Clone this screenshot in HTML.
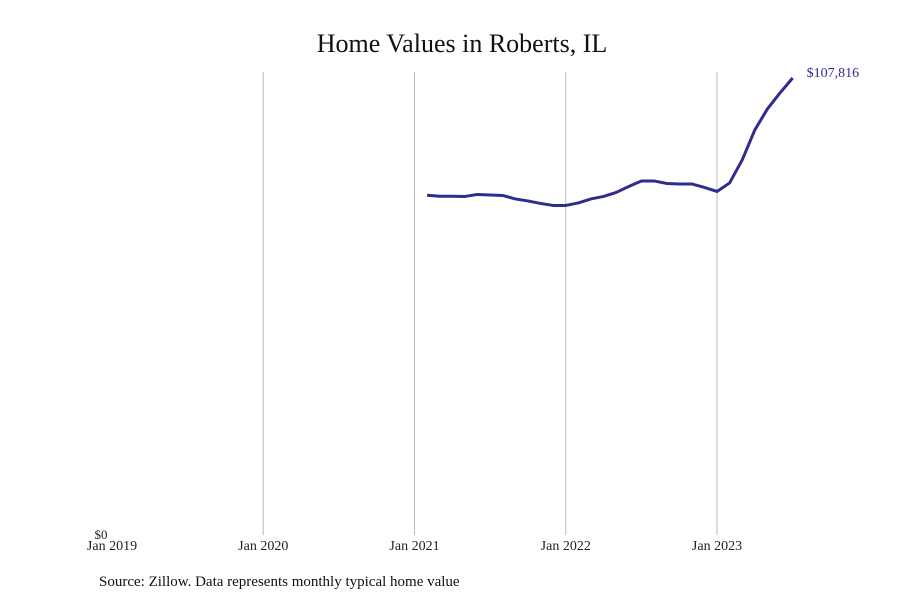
<!DOCTYPE html>
<html><head><meta charset="utf-8"><style>
body{margin:0;background:#fff;}
svg text{font-family:"Liberation Serif",serif;}
</style></head><body>
<svg width="900" height="600" id="chart">
<text x="462" y="52" text-anchor="middle" font-size="26" fill="#111">Home Values in Roberts, IL</text>
<text x="99" y="586" font-size="15" fill="#111">Source: Zillow. Data represents monthly typical home value</text>
<g id="grid"></g><g id="xlabels"></g><g id="series"></g>
</svg>
<script>
const tickLabels=["Jan 2019","Jan 2020","Jan 2021","Jan 2022","Jan 2023"];
const tickMonths=[0,12,24,36,48];
const startMonth=25; // Feb 2021
const values=[80156,79920,79920,79870,80344,80226,80108,79283,78810,78220,77749,77749,78339,79283,79870,80817,82232,83530,83530,82940,82822,82822,81997,81052,83058,88485,95564,100519,104294,107816];
const yMax=107816;
const NS="http://www.w3.org/2000/svg";
const x0=112,pxPerMonth=(717-112)/48,yBase=535,yTopPix=78;
const xs=m=>x0+m*pxPerMonth;
const ys=v=>yBase-v/yMax*(yBase-yTopPix);
const grid=document.getElementById('grid'),xl=document.getElementById('xlabels'),ser=document.getElementById('series');
tickMonths.forEach((m,i)=>{
  if(i>0){const l=document.createElementNS(NS,'line');
  
  
  l.setAttribute('x1',xs(m));l.setAttribute('x2',xs(m));l.setAttribute('y1',72);l.setAttribute('y2',535);
  l.setAttribute('stroke','#bbb');l.setAttribute('stroke-width','1');grid.appendChild(l);}
  const t=document.createElementNS(NS,'text');
  
  
  t.setAttribute('x',xs(m));t.setAttribute('y',550);t.setAttribute('text-anchor','middle');t.setAttribute('font-size','14');t.setAttribute('fill','#222');
  t.textContent=tickLabels[i];xl.appendChild(t);
});
const z=document.createElementNS(NS,'text');


z.setAttribute('x',101);z.setAttribute('y',539);z.setAttribute('text-anchor','middle');z.setAttribute('font-size','13');z.setAttribute('fill','#222');
z.textContent='$0';xl.appendChild(z);
const p=document.createElementNS(NS,'polyline');


p.setAttribute('points',values.map((v,i)=>xs(startMonth+i)+','+ys(v)).join(' '));
p.setAttribute('fill','none');p.setAttribute('stroke','#2e2d8f');p.setAttribute('stroke-width','3');p.setAttribute('stroke-linejoin','round');
ser.appendChild(p);
const last=values[values.length-1];
const lb=document.createElementNS(NS,'text');


lb.setAttribute('x',xs(startMonth+values.length-1)+14);lb.setAttribute('y',ys(last)-1);lb.setAttribute('font-size','14');lb.setAttribute('fill','#2e2d8f');
lb.textContent='$'+last.toLocaleString('en-US');ser.appendChild(lb);
</script>
</body></html>
